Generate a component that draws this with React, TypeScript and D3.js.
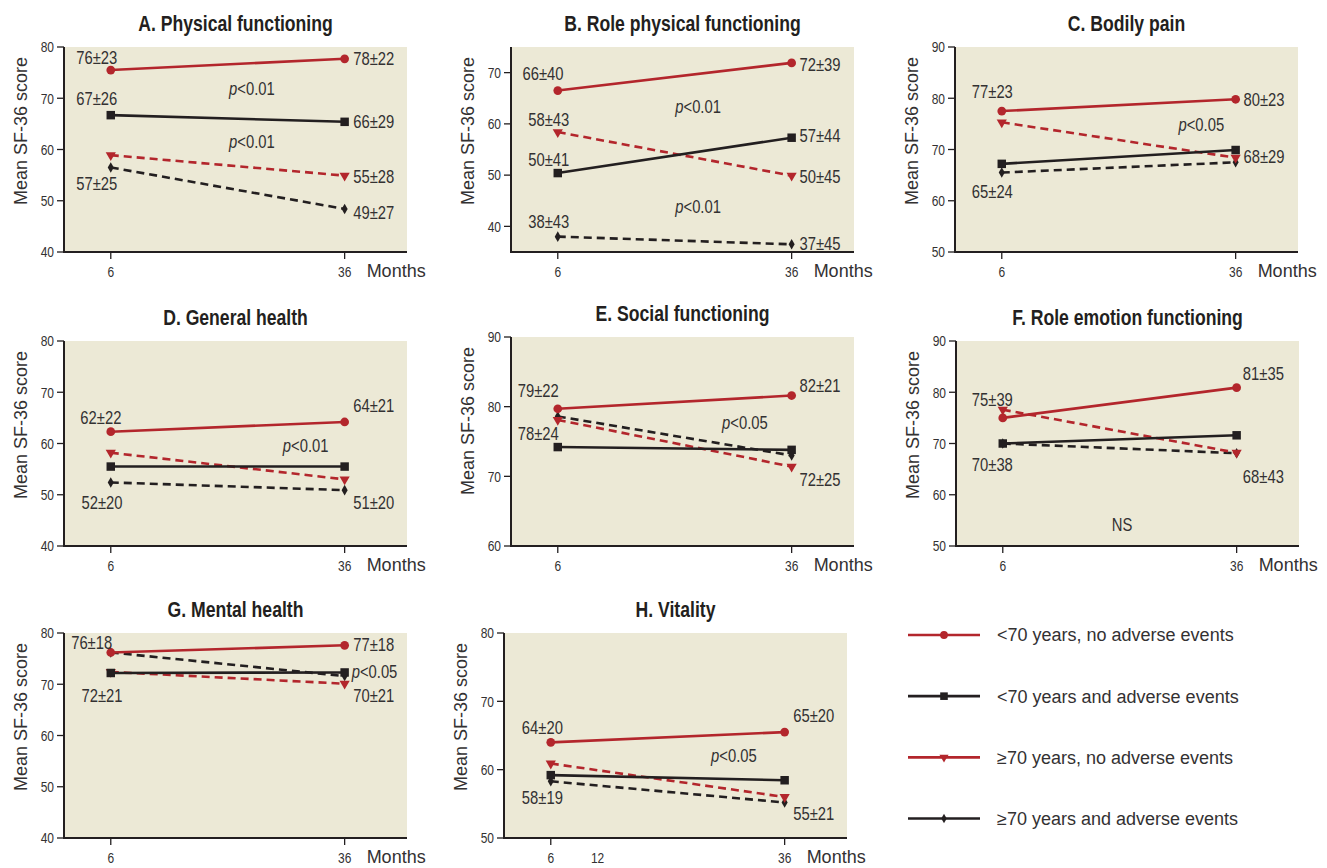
import React, { useEffect } from "react";
import * as d3 from "d3";

// ---------- DATA ----------
const months = [6, 36];
const seriesLabels = [
  "<70 years, no adverse events",
  "<70 years and adverse events",
  "≥70 years, no adverse events",
  "≥70 years and adverse events",
];
const panelTitles = [
  "A. Physical functioning",
  "B. Role physical functioning",
  "C. Bodily pain",
  "D. General health",
  "E. Social functioning",
  "F. Role emotion functioning",
  "G. Mental health",
  "H. Vitality",
];
const yDomains: [number, number][] = [
  [40, 80], [35, 75], [50, 90], [40, 80], [60, 90], [50, 90], [40, 80], [50, 80],
];
const yTicks = [
  [40, 50, 60, 70, 80],
  [40, 50, 60, 70],
  [50, 60, 70, 80, 90],
  [40, 50, 60, 70, 80],
  [60, 70, 80, 90],
  [50, 60, 70, 80, 90],
  [40, 50, 60, 70, 80],
  [50, 60, 70, 80],
];
const xTickMarks = [6, 36];
const xTickLabels = [[6, 36], [6, 36], [6, 36], [6, 36], [6, 36], [6, 36], [6, 36], [6, 12, 36]];

// series order: <70 no AE, <70 AE, >=70 no AE, >=70 AE ; values at months 6 and 36
const physicalFunctioning = [[75.5, 77.7], [66.7, 65.4], [58.9, 54.9], [56.5, 48.4]];
const rolePhysical = [[66.5, 71.9], [50.4, 57.3], [58.4, 49.9], [38.0, 36.5]];
const bodilyPain = [[77.5, 79.8], [67.2, 69.9], [75.3, 68.4], [65.5, 67.5]];
const generalHealth = [[62.3, 64.2], [55.5, 55.5], [58.2, 53.0], [52.4, 50.9]];
const socialFunctioning = [[79.7, 81.6], [74.2, 73.8], [78.1, 71.4], [78.6, 73.0]];
const roleEmotion = [[75.0, 80.9], [70.0, 71.6], [76.6, 68.2], [70.0, 68.1]];
const mentalHealth = [[76.2, 77.6], [72.2, 72.3], [72.4, 70.1], [76.2, 71.6]];
const vitality = [[64.0, 65.5], [59.2, 58.45], [60.9, 56.0], [58.3, 55.2]];
const panelValues = [
  physicalFunctioning, rolePhysical, bodilyPain, generalHealth,
  socialFunctioning, roleEmotion, mentalHealth, vitality,
];

// annotations: [month, score, text, anchor]
type Ann = [number, number, string, string];
const annPhysical: Ann[] = [
  [4.2, 78.05, "76±23", "middle"], [37.1, 77.7, "78±22", "start"],
  [4.2, 69.9, "67±26", "middle"], [37.1, 65.4, "66±29", "start"],
  [24.1, 72.0, "p<0.01", "middle"], [24.1, 61.5, "p<0.01", "middle"],
  [37.1, 54.8, "55±28", "start"], [4.2, 53.3, "57±25", "middle"],
  [37.1, 47.8, "49±27", "start"],
];
const annRolePhysical: Ann[] = [
  [4.1, 69.8, "66±40", "middle"], [37.0, 71.6, "72±39", "start"],
  [24.0, 63.5, "p<0.01", "middle"], [4.84, 60.9, "58±43", "middle"],
  [37.0, 57.7, "57±44", "start"], [4.84, 53.0, "50±41", "middle"],
  [37.0, 49.7, "50±45", "start"], [24.0, 44.0, "p<0.01", "middle"],
  [4.84, 40.9, "38±43", "middle"], [37.0, 36.7, "37±45", "start"],
];
const annBodilyPain: Ann[] = [
  [4.79, 81.3, "77±23", "middle"], [37.0, 79.8, "80±23", "start"],
  [31.6, 75.0, "p<0.05", "middle"], [37.0, 68.7, "68±29", "start"],
  [4.79, 61.9, "65±24", "middle"],
];
const annGeneralHealth: Ann[] = [
  [4.73, 65.2, "62±22", "middle"], [37.1, 67.5, "64±21", "start"],
  [31.0, 59.7, "p<0.01", "middle"], [4.87, 48.6, "52±20", "middle"],
  [37.1, 48.6, "51±20", "start"],
];
const annSocial: Ann[] = [
  [3.5, 82.4, "79±22", "middle"], [37.0, 83.1, "82±21", "start"],
  [30.0, 77.7, "p<0.05", "middle"], [3.5, 76.2, "78±24", "middle"],
  [37.0, 69.5, "72±25", "start"],
];
const annRoleEmotion: Ann[] = [
  [36.8, 83.6, "81±35", "start"], [4.66, 78.6, "75±39", "middle"],
  [4.66, 65.9, "70±38", "middle"], [36.8, 63.5, "68±43", "start"],
  [21.3, 54.2, "NS", "middle"],
];
const annMental: Ann[] = [
  [3.55, 78.1, "76±18", "middle"], [37.1, 77.7, "77±18", "start"],
  [36.9, 72.6, "p<0.05", "start"], [4.87, 67.8, "72±21", "middle"],
  [37.1, 67.8, "70±21", "start"],
];
const annVitality: Ann[] = [
  [4.92, 66.2, "64±20", "middle"], [37.1, 68.0, "65±20", "start"],
  [29.5, 62.1, "p<0.05", "middle"], [4.92, 56.0, "58±19", "middle"],
  [37.1, 53.6, "55±21", "start"],
];
const panelAnnotations = [
  annPhysical, annRolePhysical, annBodilyPain, annGeneralHealth,
  annSocial, annRoleEmotion, annMental, annVitality,
];

// ---------- LAYOUT / STYLE ----------
const W = 1327;
const H = 868;
const plotW = 343;
const layout = [
  { x: 64, top: 47, bottom: 252 },
  { x: 511, top: 47, bottom: 252 },
  { x: 955, top: 47, bottom: 252 },
  { x: 64, top: 341, bottom: 546 },
  { x: 511, top: 337, bottom: 546 },
  { x: 956, top: 341, bottom: 546 },
  { x: 64, top: 633, bottom: 838 },
  { x: 504, top: 633, bottom: 838 },
];
const RED = "#B3262C";
const BLK = "#231F20";
const TXT = "#333132";
const BG = "#ECE9D6";
const REG = "'Liberation Sans', Arial, sans-serif";
const NARROW_SCALE = 0.8;
const seriesStyle = [
  { color: RED, dash: null as string | null, sym: d3.symbolCircle, size: 60, rot: 0 },
  { color: BLK, dash: null, sym: d3.symbolSquare, size: 72, rot: 0 },
  { color: RED, dash: "8,5", sym: d3.symbolTriangle, size: 45, rot: 180 },
  { color: BLK, dash: "8,5", sym: d3.symbolDiamond, size: 32, rot: 0 },
];
const drawOrder = [3, 2, 1, 0];

function renderText(t: string) {
  if (t.startsWith("p<")) {
    return (
      <>
        <tspan fontStyle="italic">p</tspan>
        {t.slice(1)}
      </>
    );
  }
  return t;
}

// condensed text: regular sans squeezed horizontally
function NText(props: {
  x: number;
  y: number;
  size: number;
  anchor?: string;
  bold?: boolean;
  dy?: string;
  fill?: string;
  children: React.ReactNode;
}) {
  return (
    <g transform={`translate(${props.x},${props.y}) scale(${NARROW_SCALE},1)`}>
      <text
        x={0}
        y={0}
        dy={props.dy}
        textAnchor={props.anchor || "start"}
        fontFamily={REG}
        fontWeight={props.bold ? "bold" : "normal"}
        fontSize={props.size}
        fill={props.fill || TXT}
      >
        {props.children}
      </text>
    </g>
  );
}

function Panel({ i }: { i: number }) {
  const L = layout[i];
  const x = d3.scaleLinear().domain([0, 44]).range([L.x, L.x + plotW]);
  const y = d3.scaleLinear().domain(yDomains[i]).range([L.bottom, L.top]);
  const line = d3
    .line<number>()
    .x((_, k) => x(months[k]))
    .y((v) => y(v));
  const vals = panelValues[i];
  return (
    <g>
      <rect x={L.x} y={L.top} width={plotW} height={L.bottom - L.top} fill={BG} />
      <NText x={L.x + plotW / 2} y={L.top - 16} size={22} bold anchor="middle" fill={BLK}>
        {panelTitles[i]}
      </NText>
      <text
        transform={`translate(${L.x - 37},${L.top + 84}) rotate(-90)`}
        textAnchor="middle"
        fontFamily={REG}
        fontSize={18}
        fill={TXT}
      >
        Mean SF-36 score
      </text>
      {yTicks[i].map((t) => (
        <g key={t}>
          <line x1={L.x - 7} x2={L.x} y1={y(t)} y2={y(t)} stroke={BLK} strokeWidth={1.3} />
          <NText x={L.x - 10} y={y(t)} dy="0.35em" anchor="end" size={15}>
            {t}
          </NText>
        </g>
      ))}
      {xTickMarks.map((t) => (
        <line key={t} x1={x(t)} x2={x(t)} y1={L.bottom} y2={L.bottom + 7} stroke={BLK} strokeWidth={1.3} />
      ))}
      {xTickLabels[i].map((t) => (
        <NText key={t} x={x(t)} y={L.bottom + 25} anchor="middle" size={15}>
          {t}
        </NText>
      ))}
      <text x={x(36) + 22} y={L.bottom + 25} fontFamily={REG} fontSize={18} fill={TXT}>
        Months
      </text>
      <line x1={L.x} x2={L.x} y1={L.top} y2={L.bottom + 1} stroke={BLK} strokeWidth={2} />
      <line x1={L.x - 1} x2={L.x + plotW} y1={L.bottom} y2={L.bottom} stroke={BLK} strokeWidth={2} />
      {drawOrder.map((s) => {
        const st = seriesStyle[s];
        const sym = d3.symbol().type(st.sym).size(st.size)();
        return (
          <g key={s}>
            <path
              d={line(vals[s]) || ""}
              fill="none"
              stroke={st.color}
              strokeWidth={2.6}
              strokeDasharray={st.dash || undefined}
            />
            {vals[s].map((v, k) => (
              <path
                key={k}
                d={sym || ""}
                fill={st.color}
                transform={`translate(${x(months[k])},${y(v)}) rotate(${st.rot})`}
              />
            ))}
          </g>
        );
      })}
      {panelAnnotations[i].map((a, k) => (
        <NText key={k} x={x(a[0])} y={y(a[1])} dy="0.36em" anchor={a[3]} size={18.5}>
          {renderText(a[2])}
        </NText>
      ))}
    </g>
  );
}

function Legend() {
  const ly = d3.scalePoint<number>().domain([0, 1, 2, 3]).range([635, 818.5]);
  return (
    <g>
      {seriesLabels.map((lab, s) => {
        const st = seriesStyle[s];
        const sym = d3.symbol().type(st.sym).size(st.size * 0.8)();
        const yy = ly(s) as number;
        return (
          <g key={s}>
            <line x1={908} x2={980} y1={yy} y2={yy} stroke={st.color} strokeWidth={2.6} />
            <path d={sym || ""} fill={st.color} transform={`translate(944,${yy}) rotate(${st.rot})`} />
            <text x={997} y={yy} dy="0.36em" fontFamily={REG} fontSize={18} fill={TXT}>
              {lab}
            </text>
          </g>
        );
      })}
    </g>
  );
}

export default function App() {
  useEffect(() => {
    document.body.style.margin = "0";
  }, []);
  return (
    <svg
      width={W}
      height={H}
      viewBox={`0 0 ${W} ${H}`}
      style={{ position: "absolute", left: 0, top: 0, background: "#fff" }}
    >
      <rect width={W} height={H} fill="#fff" />
      {panelTitles.map((_, i) => (
        <Panel key={i} i={i} />
      ))}
      <Legend />
    </svg>
  );
}
